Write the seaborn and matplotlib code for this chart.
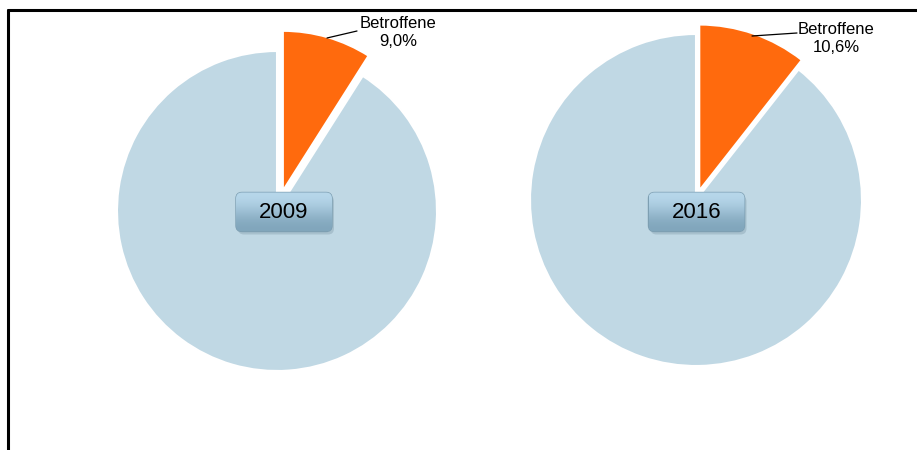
import seaborn as sns
import matplotlib.pyplot as plt
from matplotlib.patches import FancyBboxPatch

# data
years = ["2009", "2016"]
affected = [9.0, 10.6]
slice_label = "Betroffene"

# layout in pixel coordinates (y measured from bottom)
W, H = 917, 450
centers = [(277, H - 211), (696, H - 200)]
radii = [160, 166]
explodes = [21, 10]  # offset in pixels
box_x = [284, 696.5]
label_pos = [(398, H - 33), (836, H - 38)]
leader = [((327, H - 38), (357, H - 31)), ((752, H - 36), (797, H - 33))]

sns.set_theme(style="white")
plt.rcParams['font.family'] = ['Liberation Sans', 'DejaVu Sans']

colors = ["#ff6a0d", "#c0d8e4"]

fig = plt.figure(figsize=(W / 100, H / 100), dpi=100)
ax = fig.add_axes([0, 0, 1, 1])
ax.set_xlim(0, W)
ax.set_ylim(0, H)
ax.axis("off")

for i, year in enumerate(years):
    share = affected[i]
    ax.pie(
        [share, 100 - share],
        colors=colors,
        startangle=90,
        counterclock=False,
        center=centers[i],
        radius=radii[i],
        explode=[explodes[i], 0],
        wedgeprops=dict(edgecolor="white", linewidth=1.5),
        frame=True,
    )

    # label with leader line
    (x0, y0), (x1, y1) = leader[i]
    ax.plot([x0, x1], [y0, y1], color="black", lw=0.9)
    pct = f"{share:.1f}".replace(".", ",") + "%"
    ax.text(label_pos[i][0], label_pos[i][1], f"{slice_label}\n{pct}",
            ha="center", va="center", fontsize=12, linespacing=1.25, color="black")

    # year box in the middle
    cx = box_x[i]
    cy = H - 212
    bw, bh = 96, 39
    shadow = FancyBboxPatch((cx - bw / 2 + 2, cy - bh / 2 - 3), bw, bh,
                            boxstyle="round,pad=0,rounding_size=6",
                            facecolor="#8fa9b8", edgecolor="none", alpha=0.5, zorder=4)
    ax.add_patch(shadow)
    box = FancyBboxPatch((cx - bw / 2, cy - bh / 2), bw, bh,
                         boxstyle="round,pad=0,rounding_size=6",
                         facecolor="#9ec0d3", edgecolor="#7d9fb2", lw=1, zorder=5)
    ax.add_patch(box)
    # vertical gradient clipped to the box
    grad = [[0.0], [1.0]]
    im = ax.imshow(grad, extent=(cx - bw / 2, cx + bw / 2, cy - bh / 2, cy + bh / 2),
                   cmap=sns.blend_palette(["#7fa4ba", "#b9d9ec"], as_cmap=True),
                   origin="lower", aspect="auto", zorder=5.5, interpolation="bicubic")
    im.set_clip_path(box)
    ax.text(cx, cy, year, ha="center", va="center", fontsize=16, color="black", zorder=6)

ax.set_xlim(0, W)
ax.set_ylim(0, H)
ax.set_aspect("auto")

# frame lines (top and left)
ax.plot([8, W], [H - 10, H - 10], color="black", lw=2.2, clip_on=False, zorder=10)
ax.plot([8, 8], [0, H - 10], color="black", lw=2.2, clip_on=False, zorder=10)

fig.savefig("out.png", dpi=100)
